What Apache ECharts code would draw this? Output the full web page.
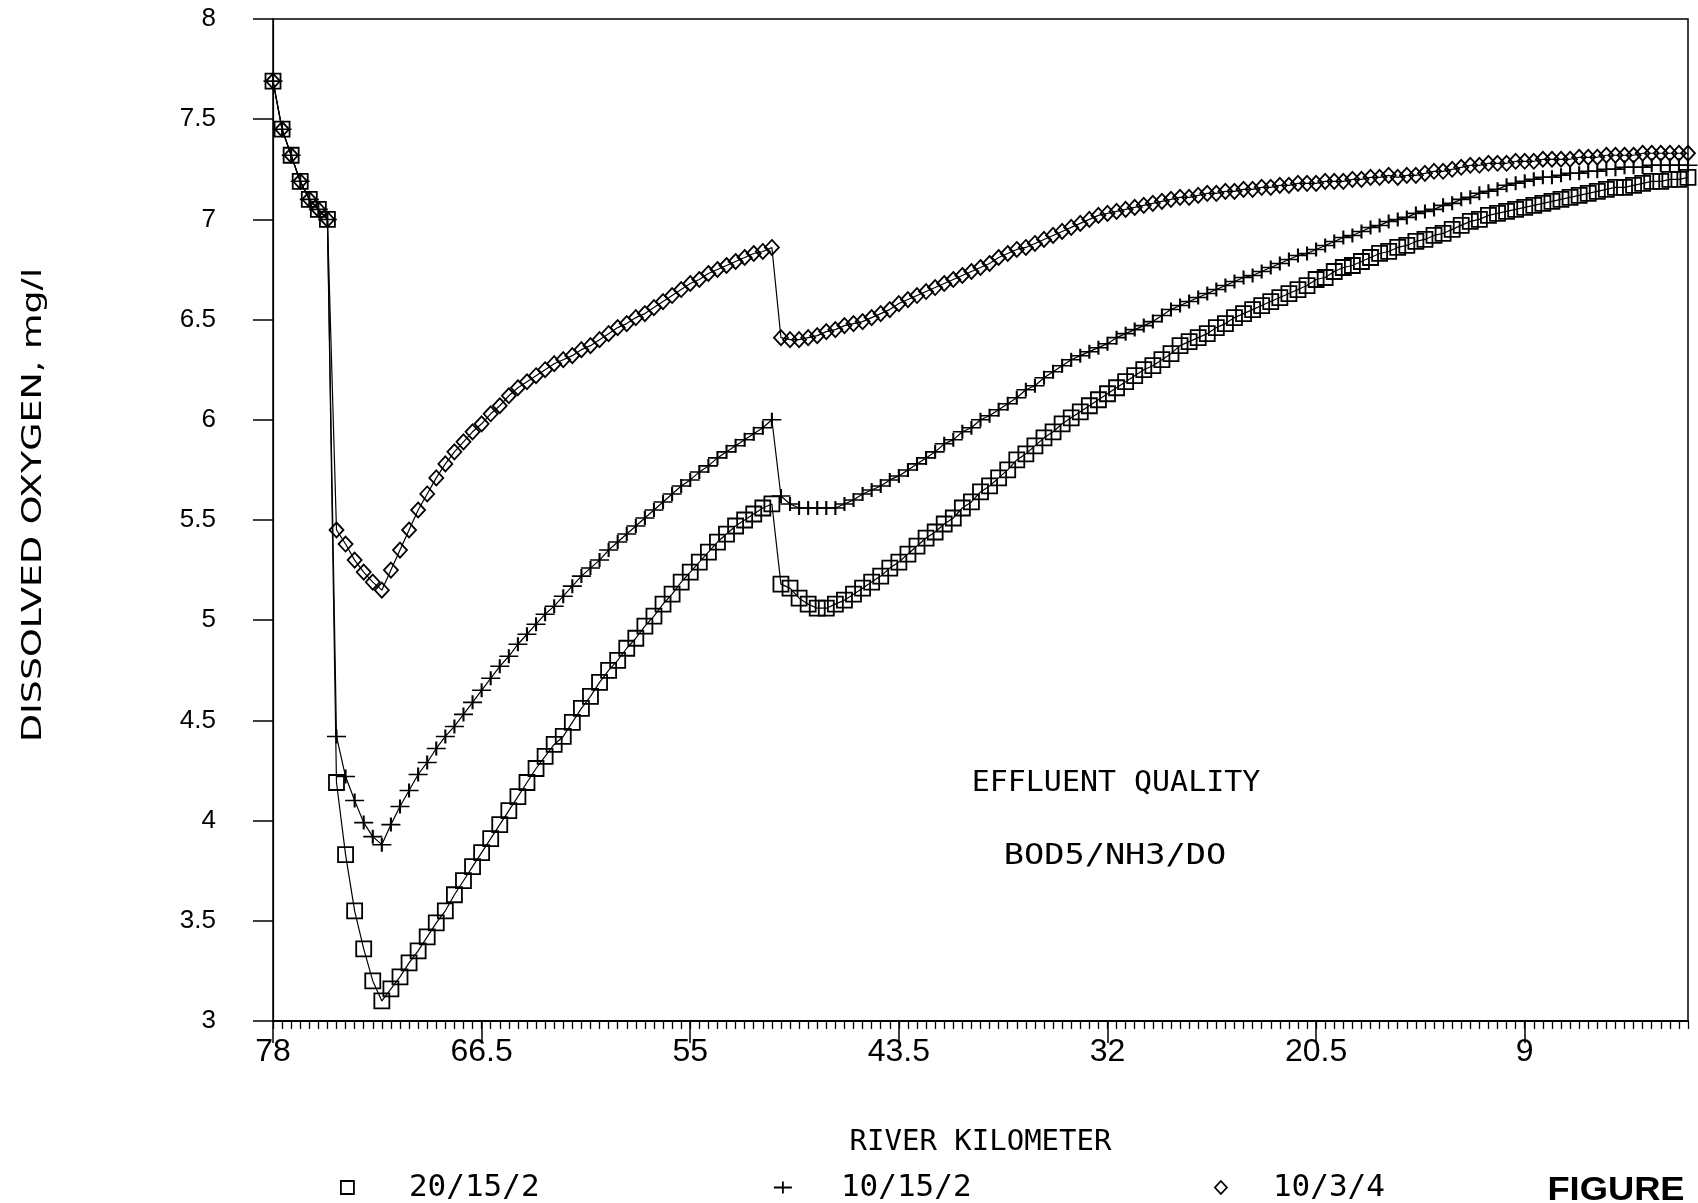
<!DOCTYPE html>
<html>
<head>
<meta charset="utf-8">
<script src="https://cdn.jsdelivr.net/npm/echarts@6/dist/echarts.min.js"></script>
<style>
  html, body { margin: 0; padding: 0; background: #ffffff; }
  #chart { width: 1698px; height: 1203px; }
</style>
</head>
<body>
<div id="chart"></div>
<script>
// River stations (km), upstream (78) to mouth (0), every 0.5 km
const riverKm = [
  78, 77.5, 77, 76.5, 76, 75.5, 75, 74.5, 74, 73.5, 73, 72.5, 72,
  71.5, 71, 70.5, 70, 69.5, 69, 68.5, 68, 67.5, 67,
  66.5, 66, 65.5, 65, 64.5, 64, 63.5, 63, 62.5, 62,
  61.5, 61, 60.5, 60, 59.5, 59, 58.5, 58, 57.5, 57,
  56.5, 56, 55.5, 55, 54.5, 54, 53.5, 53, 52.5, 52,
  51.5, 51, 50.5, 50, 49.5, 49, 48.5, 48, 47.5, 47,
  46.5, 46, 45.5, 45, 44.5, 44, 43.5, 43, 42.5, 42,
  41.5, 41, 40.5, 40, 39.5, 39, 38.5, 38, 37.5, 37,
  36.5, 36, 35.5, 35, 34.5, 34, 33.5, 33, 32.5, 32,
  31.5, 31, 30.5, 30, 29.5, 29, 28.5, 28, 27.5, 27,
  26.5, 26, 25.5, 25, 24.5, 24, 23.5, 23, 22.5, 22,
  21.5, 21, 20.5, 20, 19.5, 19, 18.5, 18, 17.5, 17,
  16.5, 16, 15.5, 15, 14.5, 14, 13.5, 13, 12.5, 12,
  11.5, 11, 10.5, 10, 9.5, 9, 8.5, 8, 7.5, 7,
  6.5, 6, 5.5, 5, 4.5, 4, 3.5, 3, 2.5, 2,
  1.5, 1, 0.5, 0
];

// Dissolved oxygen (mg/l), effluent BOD5/NH3/DO = 20/15/2
const do_20_15_2 = [
  7.69, 7.45, 7.32, 7.19, 7.10, 7.05, 7.00, 4.19, 3.83, 3.55, 3.36, 3.20, 3.10,
  3.16, 3.22, 3.29, 3.35, 3.42, 3.49, 3.55, 3.63, 3.70, 3.77,
  3.84, 3.91, 3.98, 4.05, 4.12, 4.19, 4.26, 4.32, 4.38, 4.42,
  4.49, 4.56, 4.62, 4.69, 4.75, 4.80, 4.86, 4.91, 4.97, 5.02,
  5.08, 5.13, 5.19, 5.24, 5.29, 5.34, 5.39, 5.43, 5.47, 5.50,
  5.53, 5.56, 5.58, 5.18, 5.16, 5.11, 5.08, 5.06, 5.06, 5.08,
  5.10, 5.13, 5.16, 5.19, 5.22, 5.26, 5.29, 5.33, 5.37, 5.41,
  5.44, 5.48, 5.51, 5.56, 5.59, 5.64, 5.67, 5.71, 5.75, 5.80,
  5.83, 5.87, 5.91, 5.94, 5.98, 6.01, 6.04, 6.07, 6.10, 6.13,
  6.16, 6.19, 6.22, 6.25, 6.27, 6.30, 6.33, 6.37, 6.39, 6.41,
  6.43, 6.46, 6.48, 6.51, 6.53, 6.55, 6.57, 6.59, 6.61, 6.63,
  6.65, 6.67, 6.70, 6.71, 6.74, 6.76, 6.77, 6.79, 6.81, 6.83,
  6.84, 6.86, 6.87, 6.89, 6.90, 6.92, 6.93, 6.95, 6.97, 6.99,
  7.00, 7.02, 7.03, 7.04, 7.05, 7.06, 7.07, 7.08, 7.09, 7.10,
  7.11, 7.12, 7.13, 7.14, 7.15, 7.16, 7.16, 7.17, 7.18, 7.19,
  7.19, 7.20, 7.20, 7.21
];

// Dissolved oxygen (mg/l), effluent 10/15/2
const do_10_15_2 = [
  7.69, 7.45, 7.32, 7.19, 7.10, 7.05, 7.00, 4.42, 4.22, 4.10, 3.99, 3.92, 3.88,
  3.98, 4.07, 4.15, 4.23, 4.29, 4.36, 4.42, 4.47, 4.53, 4.59,
  4.65, 4.71, 4.77, 4.82, 4.88, 4.93, 4.98, 5.03, 5.07, 5.12,
  5.17, 5.22, 5.26, 5.30, 5.35, 5.39, 5.43, 5.47, 5.51, 5.55,
  5.59, 5.63, 5.67, 5.70, 5.74, 5.77, 5.81, 5.84, 5.87, 5.90,
  5.93, 5.96, 6.00, 5.62, 5.58, 5.56, 5.56, 5.56, 5.56, 5.56,
  5.58, 5.60, 5.63, 5.65, 5.67, 5.70, 5.72, 5.75, 5.78, 5.81,
  5.84, 5.88, 5.90, 5.94, 5.96, 6.00, 6.02, 6.05, 6.08, 6.11,
  6.15, 6.17, 6.21, 6.24, 6.27, 6.30, 6.32, 6.34, 6.36, 6.38,
  6.41, 6.43, 6.45, 6.47, 6.49, 6.52, 6.55, 6.57, 6.59, 6.61,
  6.63, 6.65, 6.67, 6.69, 6.71, 6.72, 6.74, 6.76, 6.78, 6.80,
  6.82, 6.83, 6.85, 6.87, 6.89, 6.91, 6.92, 6.94, 6.96, 6.97,
  6.99, 7.00, 7.01, 7.03, 7.04, 7.05, 7.07, 7.08, 7.10, 7.11,
  7.13, 7.14, 7.15, 7.17, 7.18, 7.19, 7.20, 7.21, 7.21, 7.22,
  7.23, 7.23, 7.24, 7.24, 7.25, 7.25, 7.26, 7.26, 7.26, 7.27,
  7.27, 7.27, 7.27, 7.27
];

// Dissolved oxygen (mg/l), effluent 10/3/4
const do_10_3_4 = [
  7.69, 7.45, 7.32, 7.19, 7.10, 7.05, 7.00, 5.45, 5.38, 5.30, 5.24, 5.19, 5.15,
  5.25, 5.35, 5.45, 5.55, 5.63, 5.71, 5.78, 5.84, 5.89, 5.94,
  5.98, 6.03, 6.07, 6.12, 6.16, 6.19, 6.22, 6.25, 6.28, 6.30,
  6.32, 6.35, 6.37, 6.40, 6.43, 6.46, 6.48, 6.51, 6.53, 6.56,
  6.59, 6.62, 6.65, 6.68, 6.70, 6.73, 6.75, 6.77, 6.79, 6.81,
  6.83, 6.84, 6.86, 6.41, 6.40, 6.40, 6.41, 6.42, 6.44, 6.45,
  6.47, 6.48, 6.49, 6.51, 6.53, 6.55, 6.58, 6.60, 6.62, 6.64,
  6.66, 6.68, 6.70, 6.72, 6.74, 6.76, 6.78, 6.81, 6.83, 6.85,
  6.86, 6.88, 6.90, 6.92, 6.94, 6.96, 6.98, 7.00, 7.02, 7.03,
  7.04, 7.05, 7.06, 7.07, 7.08, 7.09, 7.10, 7.11, 7.11, 7.12,
  7.13, 7.13, 7.14, 7.14, 7.15, 7.15, 7.16, 7.16, 7.17, 7.17,
  7.18, 7.18, 7.18, 7.19, 7.19, 7.19, 7.20, 7.20, 7.21, 7.21,
  7.22, 7.21, 7.22, 7.22, 7.23, 7.24, 7.24, 7.25, 7.26, 7.27,
  7.27, 7.28, 7.28, 7.28, 7.29, 7.29, 7.29, 7.30, 7.30, 7.30,
  7.30, 7.31, 7.31, 7.31, 7.32, 7.32, 7.32, 7.32, 7.33, 7.33,
  7.33, 7.33, 7.33, 7.33
];

// Labelled kilometre ticks
const kmTickLabels = [78, 66.5, 55, 43.5, 32, 20.5, 9];

const seriesNames = ['20/15/2', '10/15/2', '10/3/4'];

const PLOTTER_FONT = '"DejaVu Sans Mono", monospace';
const SANS_FONT = '"Liberation Sans", Arial, sans-serif';
const NARROW_FONT = '"Liberation Sans Narrow", "Liberation Sans", sans-serif';
const PLUS_PATH = 'path://M0,6H18M9,0V12';

function pairs(values) {
  return riverKm.map((km, i) => [km, values[i]]);
}

const hollow = { color: 'rgba(0,0,0,0)', borderColor: '#000', borderWidth: 1.8 };
const thinLine = { color: '#000', width: 1.2 };
const legendText = { fontFamily: PLOTTER_FONT, fontSize: 31, color: '#000' };

const chart = echarts.init(document.getElementById('chart'), null, { renderer: 'canvas' });

chart.setOption({
  animation: false,
  backgroundColor: '#ffffff',
  grid: {
    left: 273, top: 19, width: 1415, height: 1002,
    show: true, borderColor: '#000', borderWidth: 1.5,
    backgroundColor: 'rgba(0,0,0,0)'
  },
  xAxis: [
    {
      type: 'value', min: 0, max: 78, inverse: true, position: 'bottom',
      name: 'RIVER KILOMETER', nameLocation: 'middle', nameGap: 107,
      nameTextStyle: { fontFamily: PLOTTER_FONT, fontSize: 29, color: '#000' },
      axisLine: { show: true, onZero: false, lineStyle: { color: '#000', width: 2 } },
      axisTick: { show: true, customValues: kmTickLabels, length: 22, lineStyle: { color: '#000', width: 1.5 } },
      axisLabel: {
        show: true, customValues: kmTickLabels, margin: 15,
        fontFamily: NARROW_FONT, fontSize: 32, color: '#000'
      },
      splitLine: { show: false }
    },
    {
      // 0.5 km minor ticks along the bottom axis
      type: 'value', min: 0, max: 78, interval: 0.5, inverse: true, position: 'bottom',
      axisLine: { show: false },
      axisTick: { show: true, length: 8, lineStyle: { color: '#000', width: 1.3 } },
      axisLabel: { show: false },
      splitLine: { show: false }
    }
  ],
  yAxis: {
    type: 'value', min: 3, max: 8, interval: 0.5,
    axisLine: { show: true, onZero: false, lineStyle: { color: '#000', width: 1.2 } },
    axisTick: { show: true, length: 20, lineStyle: { color: '#000', width: 1.5 } },
    axisLabel: { margin: 57, fontFamily: SANS_FONT, fontSize: 26, color: '#000' },
    splitLine: { show: false }
  },
  legend: [
    {
      data: [{ name: seriesNames[0], icon: 'rect' }],
      left: 340, top: 1172, padding: 0, itemWidth: 13, itemHeight: 13,
      itemStyle: hollow,
      textStyle: Object.assign({ padding: [0, 0, 0, 50] }, legendText)
    },
    {
      data: [{ name: seriesNames[1], icon: PLUS_PATH }],
      left: 773, top: 1172, padding: 0, itemWidth: 18, itemHeight: 12,
      itemStyle: hollow,
      textStyle: Object.assign({ padding: [0, 0, 0, 44] }, legendText)
    },
    {
      data: [{ name: seriesNames[2], icon: 'diamond' }],
      left: 1214, top: 1172, padding: 0, itemWidth: 12, itemHeight: 13,
      itemStyle: hollow,
      textStyle: Object.assign({ padding: [0, 0, 0, 41] }, legendText)
    }
  ],
  series: [
    {
      name: seriesNames[0], type: 'line', xAxisIndex: 0,
      data: pairs(do_20_15_2),
      symbol: 'rect', symbolSize: 15,
      itemStyle: hollow, lineStyle: thinLine, z: 3
    },
    {
      name: seriesNames[1], type: 'line', xAxisIndex: 0,
      data: pairs(do_10_15_2),
      symbol: PLUS_PATH, symbolSize: [19, 14],
      itemStyle: hollow, lineStyle: thinLine, z: 4
    },
    {
      name: seriesNames[2], type: 'line', xAxisIndex: 0,
      data: pairs(do_10_3_4),
      symbol: 'diamond', symbolSize: [14, 15],
      itemStyle: hollow, lineStyle: thinLine, z: 5
    }
  ],
  graphic: [
    {
      type: 'text', x: 33.5, y: 505, rotation: Math.PI / 2, scaleX: 1.35,
      style: {
        text: 'DISSOLVED OXYGEN, mg/l', fontFamily: '"DejaVu Sans", sans-serif', fontSize: 27,
        fill: '#000', align: 'center', verticalAlign: 'middle',
        textAlign: 'center', textVerticalAlign: 'middle'
      }
    },
    {
      type: 'text', x: 1116, y: 784, scaleX: 1.07,
      style: {
        text: 'EFFLUENT QUALITY', fontFamily: PLOTTER_FONT, fontSize: 28,
        fill: '#000', align: 'center', verticalAlign: 'middle',
        textAlign: 'center', textVerticalAlign: 'middle'
      }
    },
    {
      type: 'text', x: 1115, y: 857, scaleX: 1.2,
      style: {
        text: 'BOD5/NH3/DO', fontFamily: PLOTTER_FONT, fontSize: 28,
        fill: '#000', align: 'center', verticalAlign: 'middle',
        textAlign: 'center', textVerticalAlign: 'middle'
      }
    },
    {
      type: 'text', x: 1616, y: 1191, scaleX: 1.1,
      style: {
        text: 'FIGURE', fontFamily: SANS_FONT, fontSize: 33, fontWeight: 'bold',
        fill: '#000', align: 'center', verticalAlign: 'middle',
        textAlign: 'center', textVerticalAlign: 'middle'
      }
    }
  ]
});
</script>
</body>
</html>
